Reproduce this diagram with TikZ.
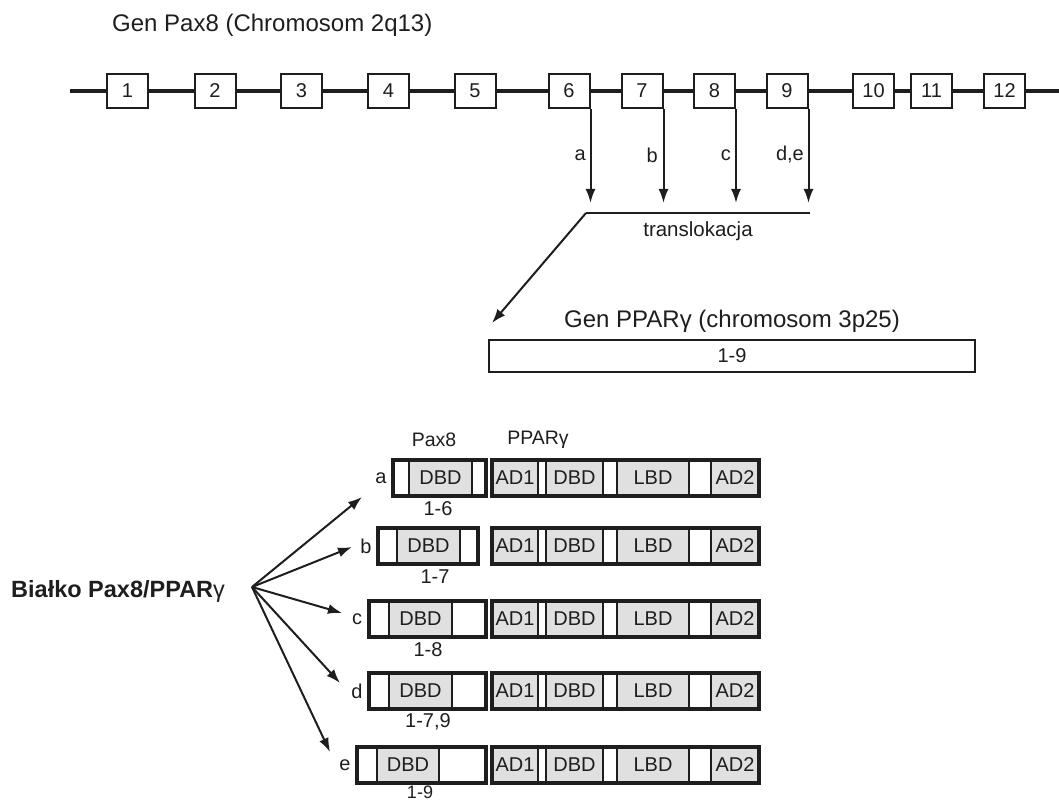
\documentclass[tikz,border=0pt]{standalone}
\usepackage{fontspec}
\setmainfont{Liberation Sans}
\usetikzlibrary{arrows.meta}
\definecolor{ink}{RGB}{30,30,30}
\definecolor{boxgrey}{RGB}{224,224,224}
\newcommand\fsz[1]{\fontsize{#1}{#1}\selectfont}
% #1 row y, #2 Pax8 left, #3 grey start, #4 grey end, #5 Pax8 right, #6 letter, #7 range text, #8 range x, #9 range y offset
\newcommand\protrow[9]{%
  \draw[thinseg] (#3,#1-18) rectangle (#4,#1+18);
  \node[lbl] (dbdp#6) at ({(#3+#4)/2},#1) {DBD};
  \draw[outerline] (#2,#1-18) rectangle (#5,#1+18);
  \node[lbl] (let#6) at (#2-12,#1) {#6};
  \node[lbl] (rng#6) at (#8,#1+#9) {#7};
  \draw[thinseg] (492,#1-18) rectangle (538,#1+18);
  \draw[thinseg] (546,#1-18) rectangle (603,#1+18);
  \draw[thinseg] (617,#1-18) rectangle (689,#1+18);
  \draw[thinseg] (711,#1-18) rectangle (759,#1+18);
  \node[lbl] (adA#6) at (515,#1) {AD1};
  \node[lbl] (dbdq#6) at (574.5,#1) {DBD};
  \node[lbl] (lbd#6) at (653,#1) {LBD};
  \node[lbl] (adB#6) at (735,#1) {AD2};
  \draw[outerline] (492,#1-18) rectangle (759,#1+18);
}
\begin{document}
\begin{tikzpicture}[x=1pt,y=-1pt,
  every node/.style={text=ink},
  exon/.style={draw=ink, line width=2pt, fill=white, minimum width=41pt,
    minimum height=34pt, inner sep=0pt, font=\fsz{20}},
  lbl/.style={inner sep=0pt, font=\fsz{20}},
  big/.style={inner sep=0pt, font=\fsz{24}},
  arr/.style={draw=ink, line width=2pt, -{Latex[length=14pt,width=10pt]}},
  thinseg/.style={draw=ink, line width=1.3pt, fill=boxgrey},
  outerline/.style={draw=ink, line width=3.4pt},
]
\useasboundingbox (0,0) rectangle (1059,802);

% ---- Pax8 gene ----
\node[big, anchor=west] (title) at (112,25) {Gen Pax8 (Chromosom 2q13)};
\coordinate (cs) at (70,91);
\coordinate (ce) at (1062,91);
\node[exon] (e1) at (127.5,91) {1};
\node[exon] (e2) at (215,91) {2};
\node[exon] (e3) at (301.5,91) {3};
\node[exon] (e4) at (388.5,91) {4};
\node[exon] (e5) at (475,91) {5};
\node[exon] (e6) at (569,91) {6};
\node[exon] (e7) at (642,91) {7};
\node[exon] (e8) at (714.5,91) {8};
\node[exon] (e9) at (787,91) {9};
\node[exon] (e10) at (873.5,91) {10};
\node[exon] (e11) at (931.5,91) {11};
\node[exon] (e12) at (1004.5,91) {12};
\draw[draw=ink, line width=3.5pt] (cs) -- (e1) -- (e2) -- (e3) -- (e4) -- (e5) -- (e6)
  -- (e7) -- (e8) -- (e9) -- (e10) -- (e11) -- (e12) -- (ce);

% ---- breakpoints ----
\coordinate (ta) at (590,203);
\coordinate (tb) at (662,203);
\coordinate (tc) at (735,203);
\coordinate (td) at (807,203);
\draw[arr] (e6.south east) -- (e6.south east |- ta);
\draw[arr] (e7.south east) -- (e7.south east |- tb);
\draw[arr] (e8.south east) -- (e8.south east |- tc);
\draw[arr] (e9.south east) -- (e9.south east |- td);
\node[lbl, anchor=east] (la) at (586,155) {a};
\node[lbl, anchor=east] (lb) at (658,155) {b};
\node[lbl, anchor=east] (lc) at (731,155) {c};
\node[lbl, anchor=east] (ld) at (804,155) {d,e};

\coordinate (hl) at (586,213);
\coordinate (hr) at (810,213);
\draw[draw=ink, line width=2pt] (hl) -- (hr);
\node[inner sep=0pt, font=\fsz{20.5}] (transl) at (698,231) {translokacja};
\coordinate (dt) at (492,323);
\draw[arr] (hl) -- (dt);

% ---- PPARg gene ----
\node[big] (pptitle) at (732,321) {Gen PPARγ (chromosom 3p25)};
\node[draw=ink, line width=2pt, minimum width=486pt, minimum height=32pt,
  inner sep=0pt, font=\fsz{20}] (ppgene) at (732,356) {1-9};

% ---- proteins ----
\node[inner sep=0pt, font=\fsz{19.5}] (hpax) at (434,440) {Pax8};
\node[inner sep=0pt, font=\fsz{19.5}] (hppar) at (538,440) {PPARγ};

\protrow{478}{393}{409}{472}{486}{a}{1-6}{438}{31}
\protrow{546}{378}{397}{460}{478}{b}{1-7}{435}{31}
\protrow{619}{369}{389}{452}{486}{c}{1-8}{428}{31}
\protrow{691}{369}{389}{452}{486}{d}{1-7,9}{428}{31}
\protrow{765}{357}{377}{439}{486}{e}{\fsz{18}1-9}{420}{27.5}

\node[inner sep=0pt, anchor=west, font=\fsz{23.5}] (protein) at (11,591)
  {\textbf{Białko Pax8/PPAR}γ};
\coordinate (fan) at (252,587);
\coordinate (fa) at (362,497);
\coordinate (fb) at (352,547);
\coordinate (fc) at (342,613);
\coordinate (fd) at (340,683);
\coordinate (fe) at (330,752);
\draw[arr] (fan) -- (fa);
\draw[arr] (fan) -- (fb);
\draw[arr] (fan) -- (fc);
\draw[arr] (fan) -- (fd);
\draw[arr] (fan) -- (fe);
\end{tikzpicture}
\end{document}
